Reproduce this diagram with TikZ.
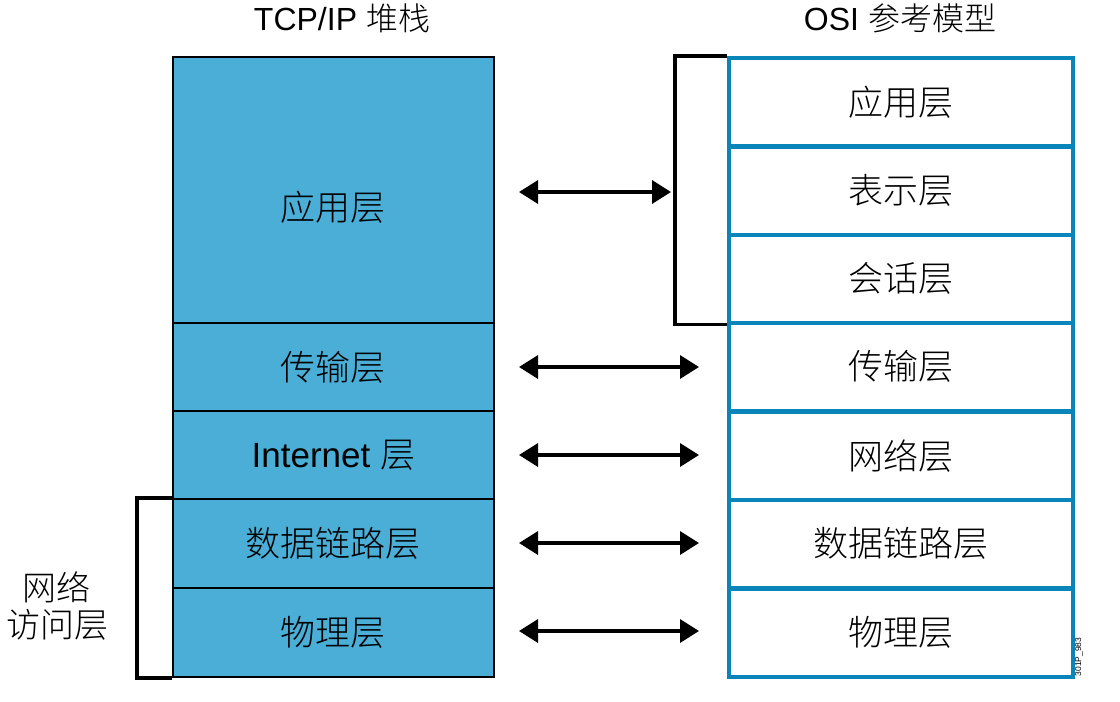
\documentclass[tikz,border=0pt]{standalone}
\usepackage{fontspec}
\setmainfont{Liberation Sans}
\newfontfamily\cjk{Noto Sans CJK SC Light}
\usetikzlibrary{arrows.meta}
\definecolor{tcpfill}{HTML}{4AAED6}
\definecolor{osiblue}{HTML}{0A85BA}
\tikzset{
  tcpbox/.style={draw=black, line width=1.8pt, fill=tcpfill, minimum width=321pt, inner sep=0pt, font=\cjk\fontsize{35}{40}\selectfont, anchor=north west},
  osibox/.style={draw=osiblue, line width=3.5pt, fill=white, minimum width=344pt, minimum height=88pt, inner sep=0pt, font=\cjk\fontsize{35}{40}\selectfont, anchor=north west},
  bracket/.style={draw=black, line width=3.5pt},
  dbl/.style={draw=black, line width=3.5pt, {Triangle[length=19pt,width=23pt]}-{Triangle[length=19pt,width=23pt]}},
  ttl/.style={font=\fontsize{32}{38}\selectfont}
}
\begin{document}
\begin{tikzpicture}[x=1pt,y=-1pt]
\useasboundingbox (0,0) rectangle (1120,702);
% titles
\node[ttl] (t1) at (342,18) {TCP/IP {\cjk 堆栈}};
\node[ttl] (t2) at (900,18) {OSI {\cjk 参考模型}};
% TCP/IP stack
\node[tcpbox, minimum height=266pt] (app) at (172,56) {};
\node[font=\cjk\fontsize{35}{40}\selectfont] (applbl) at (app.center |- 0,207) {应用层};
\node[tcpbox, minimum height=88pt] (tra) at (172,322) {传输层};
\node[tcpbox, minimum height=88pt] (int) at (172,410) {\rmfamily Internet \cjk 层};
\node[tcpbox, minimum height=89pt] (dl) at (172,498) {数据链路层};
\node[tcpbox, minimum height=89pt] (ph) at (172,587) {物理层};
% OSI model
\node[osibox] (oapp) at (727,56) {应用层};
\node[osibox] (opre) at (727,145) {表示层};
\node[osibox] (oses) at (727,233) {会话层};
\node[osibox] (otra) at (727,321) {传输层};
\node[osibox] (onet) at (727,410) {网络层};
\node[osibox] (odl) at (727,498) {数据链路层};
\node[osibox] (oph) at (727,587) {物理层};
% brackets
\draw[bracket] (oapp.north west) -- ++(-52,0) |- (oses.south west);
\draw[bracket] (dl.north west) -- ++(-35,0) |- (ph.south west);
% arrows
\draw[dbl] (519,192) coordinate (a1l) -- (671,192) coordinate (a1r);
\draw[dbl] (519,367) coordinate (a2l) -- (699,367) coordinate (a2r);
\draw[dbl] (519,455) coordinate (a3l) -- (699,455) coordinate (a3r);
\draw[dbl] (519,543) coordinate (a4l) -- (699,543) coordinate (a4r);
\draw[dbl] (519,631) coordinate (a5l) -- (699,631) coordinate (a5r);
% left label
\node[font=\cjk\fontsize{34}{37}\selectfont, align=center] (nal) at (57,606) {网络\\访问层};
% code
\node[rotate=90, font=\fontsize{8.5}{10}\selectfont] (code) at (1079,657) {301P\_983};
\end{tikzpicture}
\end{document}
